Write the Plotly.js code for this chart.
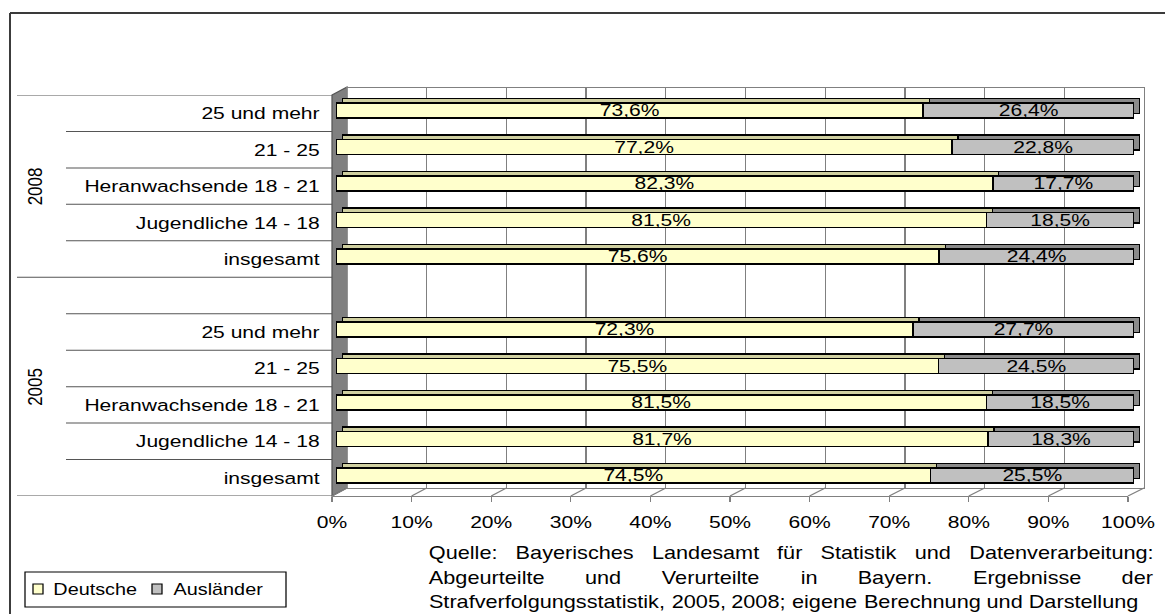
<!DOCTYPE html>
<html>
<head>
<meta charset="utf-8">
<script src="https://cdn.plot.ly/plotly-3.0.1.min.js"></script>
<style>
  html, body { margin: 0; padding: 0; background: #fff; overflow: hidden; }
  #chart { width: 940px; height: 614px; transform: scaleX(1.239362); transform-origin: 0 0; }
</style>
</head>
<body>
<div id="chart"></div>
<script>
// ---------------- data ----------------
const years = ['2005', '2008'];
const ageGroups = ['insgesamt', 'Jugendliche 14 - 18', 'Heranwachsende 18 - 21', '21 - 25', '25 und mehr'];
const deutsche2005   = [74.5, 81.7, 81.5, 75.5, 72.3];
const auslaender2005 = [25.5, 18.3, 18.5, 24.5, 27.7];
const deutsche2008   = [75.6, 81.5, 82.3, 77.2, 73.6];
const auslaender2008 = [24.4, 18.5, 17.7, 22.8, 26.4];
const seriesNames = ['Deutsche', 'Ausländer'];
const sourceLines = [
  'Quelle: Bayerisches Landesamt für Statistik und Datenverarbeitung:',
  'Abgeurteilte und Verurteilte in Bayern. Ergebnisse der',
  'Strafverfolgungsstatistik, 2005, 2008; eigene Berechnung und Darstellung'
];

// ---------------- layout helpers ----------------
const W = 940, H = 614, REFW = 1165, SCALE = REFW / W;
const FONT = 'Liberation Sans, Arial, sans-serif';
const px = x => x / REFW;          // reference pixel -> paper x
const py = y => 1 - y / H;         // reference pixel -> paper y

const faceColors = ['#FFFFCC', '#C0C0C0'];
const backColors = ['#CFCFA0', '#8A8A8A'];

const n = ageGroups.length;
const yPos2005 = ageGroups.map((_, i) => i);
const yPos2008 = ageGroups.map((_, i) => i + n + 1);
const yAll = yPos2005.concat(yPos2008);
const series = [deutsche2005.concat(deutsche2008), auslaender2005.concat(auslaender2008)];
const fmt = v => v.toFixed(1).replace('.', ',') + '%';
const yRange = [-0.5, 2 * n + 0.5];

const traces = [];
// subplot xy: back wall grid (empty trace to ensure subplot)
traces.push({type: 'scatter', x: [null], y: [null], xaxis: 'x', yaxis: 'y', hoverinfo: 'skip', showlegend: false});
// subplot x2y2: bar back copy (top & side faces)
series.forEach((vals, s) => traces.push({
  type: 'bar', orientation: 'h', x: vals, y: yAll, xaxis: 'x2', yaxis: 'y2', width: 0.41,
  marker: {color: backColors[s], line: {color: '#000', width: 1.2}},
  hoverinfo: 'skip', showlegend: false, textposition: 'none'
}));
// subplot x3y3: bar front faces with labels
series.forEach((vals, s) => traces.push({
  type: 'bar', orientation: 'h', name: seriesNames[s], x: vals, y: yAll, xaxis: 'x3', yaxis: 'y3', width: 0.41,
  marker: {color: faceColors[s], line: {color: '#000', width: 1.4}},
  text: vals.map(fmt), textposition: 'inside', insidetextanchor: 'middle', constraintext: 'none',
  textangle: 0, textfont: {size: 17, color: '#000', family: FONT}, cliponaxis: false,
  hoverinfo: 'skip', showlegend: false
}));
// subplot x4y4: front axes (labels)
traces.push({type: 'scatter', x: [null], y: [null], xaxis: 'x4', yaxis: 'y4', hoverinfo: 'skip', showlegend: false});

const hidden = {visible: false, range: [0, 100], fixedrange: true};
const hiddenY = {visible: false, range: yRange, fixedrange: true};

const frontX = [332, 1128], backX = [347, 1144];
const frontFloor = 496, backFloor = 488;
const xTicks = [0, 10, 20, 30, 40, 50, 60, 70, 80, 90, 100];

const shapes = [];
// outer frame
shapes.push({type: 'line', xref: 'paper', yref: 'paper', x0: px(10), x1: 1.01, y0: py(13), y1: py(13), line: {color: '#3a3a3a', width: 2}});
shapes.push({type: 'line', xref: 'paper', yref: 'paper', x0: px(10), x1: px(10), y0: py(13), y1: -0.01, line: {color: '#3a3a3a', width: 1.6}});
// left side wall
shapes.push({type: 'path', xref: 'paper', yref: 'paper', layer: 'below',
  path: `M ${px(frontX[0])} ${py(95)} L ${px(backX[0])} ${py(87)} L ${px(backX[0])} ${py(backFloor)} L ${px(frontX[0])} ${py(frontFloor)} Z`,
  fillcolor: '#808080', line: {color: '#555', width: 1}});
// floor diagonals from front ticks to back wall grid lines
xTicks.forEach(t => {
  const f = t / 100;
  shapes.push({type: 'line', xref: 'paper', yref: 'paper', layer: 'below',
    x0: px(frontX[0] + f * (frontX[1] - frontX[0])), y0: py(frontFloor),
    x1: px(backX[0] + f * (backX[1] - backX[0])), y1: py(backFloor),
    line: {color: '#808080', width: 1}});
});
// category separator lines in the label area
for (let k = -1; k <= 2 * n; k++) {
  const b = k + 0.5;
  const isGroup = (b === -0.5 || b === n + 0.5 || b === 2 * n + 0.5);
  shapes.push({type: 'line', xref: 'paper', yref: 'y4', x0: px(isGroup ? 17 : 66), x1: px(332), y0: b, y1: b,
    line: {color: '#555', width: 1}});
}
// custom legend
shapes.push({type: 'rect', xref: 'paper', yref: 'paper', x0: px(25), x1: px(286), y0: py(607), y1: py(572), line: {color: '#000', width: 1}, fillcolor: 'white'});
const legendItems = [{sq: 33, tx: 52}, {sq: 152, tx: 172}];
const annotations = [];
legendItems.forEach((it, s) => {
  shapes.push({type: 'rect', xref: 'paper', yref: 'paper', x0: px(it.sq), x1: px(it.sq + 10), y0: py(594), y1: py(584),
    fillcolor: faceColors[s], line: {color: '#000', width: 1}});
  annotations.push({xref: 'paper', yref: 'paper', x: px(it.tx), y: py(589), xanchor: 'left', yanchor: 'middle',
    text: seriesNames[s], showarrow: false, borderpad: 0, font: {size: 16, color: '#000', family: FONT}});
});
// year labels
[yPos2005, yPos2008].forEach((pos, g) => {
  annotations.push({xref: 'paper', yref: 'y4', x: px(35), y: (pos[0] - 0.5 + pos[pos.length - 1] + (g === 0 ? 1.5 : 0.5)) / 2,
    text: years[g], textangle: -90, showarrow: false, xanchor: 'center', yanchor: 'middle',
    font: {size: 17, color: '#000', family: FONT}});
});
// source text, justified lines
const canvas = document.createElement('canvas');
const ctx = canvas.getContext('2d');
const SRC_SIZE = 17.5;
ctx.font = SRC_SIZE + 'px "Liberation Sans", Arial, sans-serif';
const srcLeft = 428, srcRight = 1152, srcY = [553, 578, 602];
sourceLines.forEach((line, li) => {
  const words = line.split(' ');
  const widths = words.map(w => ctx.measureText(w).width * SCALE);
  const spaceW = ctx.measureText(' ').width * SCALE;
  const total = widths.reduce((a, b) => a + b, 0);
  const justify = li < sourceLines.length - 1;
  const gap = justify ? (srcRight - srcLeft - total) / (words.length - 1) : spaceW;
  let x = srcLeft;
  words.forEach((w, i) => {
    annotations.push({xref: 'paper', yref: 'paper', x: px(x), y: py(srcY[li]), xanchor: 'left', yanchor: 'middle',
      text: w, showarrow: false, borderpad: 0, font: {size: SRC_SIZE, color: '#000', family: FONT}});
    x += widths[i] + gap;
  });
});

const layout = {
  width: W, height: H, margin: {l: 0, r: 0, t: 0, b: 0},
  paper_bgcolor: '#ffffff', plot_bgcolor: 'rgba(0,0,0,0)',
  showlegend: false, barmode: 'stack',
  font: {family: FONT, size: 17, color: '#000'},
  xaxis: {domain: [px(backX[0]), px(backX[1])], range: [0, 100], anchor: 'y', dtick: 10, tick0: 0,
    showgrid: true, gridcolor: '#808080', gridwidth: 1, showline: true, mirror: true, linecolor: '#808080', linewidth: 1,
    zeroline: false, showticklabels: false, ticks: '', fixedrange: true},
  yaxis: {domain: [py(backFloor), py(88)], range: yRange, anchor: 'x', showgrid: false, showline: true, mirror: true,
    linecolor: '#808080', linewidth: 1, zeroline: false, showticklabels: false, ticks: '', fixedrange: true},
  xaxis2: Object.assign({domain: [px(342), px(1140)], anchor: 'y2'}, hidden),
  yaxis2: Object.assign({domain: [py(489.25), py(87.75)], anchor: 'x2'}, hiddenY),
  xaxis3: Object.assign({domain: [px(336), px(1134)], anchor: 'y3'}, hidden),
  yaxis3: Object.assign({domain: [py(493.75), py(92.25)], anchor: 'x3'}, hiddenY),
  xaxis4: {domain: [px(frontX[0]), px(frontX[1])], range: [0, 100], anchor: 'y4', tickmode: 'array', tickvals: xTicks,
    ticktext: xTicks.map(t => t + '%'), ticks: 'outside', ticklen: 5, tickcolor: '#808080', tickwidth: 1,
    showline: true, linecolor: '#808080', linewidth: 1, showgrid: false, zeroline: false,
    tickfont: {size: 17, color: '#000', family: FONT}, ticklabelstandoff: 6, fixedrange: true},
  yaxis4: {domain: [py(frontFloor), py(95)], range: yRange, anchor: 'x4', tickmode: 'array',
    tickvals: yAll, ticktext: ageGroups.concat(ageGroups), ticks: '', showline: false, showgrid: false, zeroline: false,
    tickfont: {size: 17, color: '#000', family: FONT}, ticklabelstandoff: 9, fixedrange: true},
  shapes: shapes,
  annotations: annotations
};

Plotly.newPlot('chart', traces, layout, {staticPlot: true, displayModeBar: false, responsive: false});
</script>
</body>
</html>
